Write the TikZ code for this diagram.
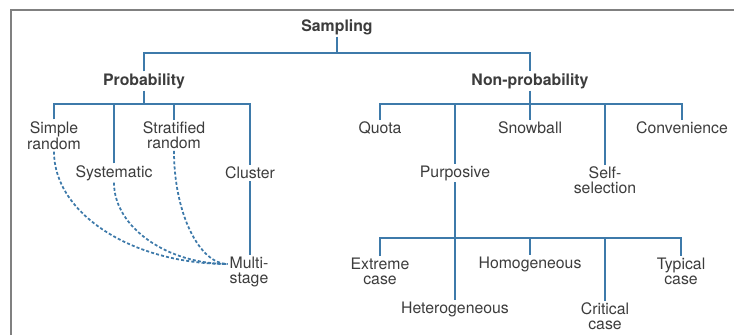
\documentclass[tikz,border=0pt]{standalone}
\usepackage{fontspec}
\setmainfont{TeX Gyre Heros}
\usetikzlibrary{calc}
\definecolor{linkblue}{RGB}{62,122,170}
\definecolor{txtgray}{RGB}{60,60,60}
\newcommand{\termnode}[4]{\node[term] (#1) at ( #2 , #3 ) {#4};}
\newcommand{\headnode}[4]{\node[term,font=\fontsize{13.5}{12.75}\selectfont\bfseries] (#1) at ( #2 , #3 ) {#4};}

\begin{document}
\begin{tikzpicture}[x=0.03cm,y=-0.03cm,
    term/.style={align=center,inner sep=1.5pt,text=txtgray,font=\fontsize{13.5}{12.75}\selectfont},
    link/.style={draw=linkblue,line width=1.6pt},
    mixed/.style={draw=linkblue,line width=1.5pt,dash pattern=on 2.6pt off 1.8pt}]
    \useasboundingbox (0,0) rectangle (734,335);
    %frame
    \draw[gray,line width=1.2pt] (11,335) -- (11,10) -- (734,10);

    %nodes
    \headnode{sampling}{337}{27}{Sampling}
    \headnode{prob}{144}{81}{Probability}
    \headnode{nonprob}{530}{81}{Non-probability}
    \termnode{simple}{54}{135.5}{Simple\\random}
    \termnode{stratified}{174}{135.5}{Stratified\\random}
    \termnode{systematic}{114}{173}{Systematic}
    \termnode{cluster}{250}{173}{Cluster}
    \termnode{multi}{249}{271.5}{Multi-\\stage}
    \termnode{quota}{380}{128}{Quota}
    \termnode{snowball}{530}{128}{Snowball}
    \termnode{convenience}{682}{128}{Convenience}
    \termnode{purposive}{455}{173}{Purposive}
    \termnode{selfsel}{605}{180.5}{Self-\\selection}
    \termnode{extreme}{380}{271.5}{Extreme\\case}
    \termnode{homog}{530}{264}{Homogeneous}
    \termnode{typical}{681}{271.5}{Typical\\case}
    \termnode{hetero}{455}{309}{Heterogeneous}
    \termnode{critical}{605}{316.5}{Critical\\case}

    %buses
    \coordinate (sbus) at (337,53);
    \coordinate (pbus) at (144,104);
    \coordinate (nbus) at (530,104);
    \coordinate (ubus) at (455,238);

    %edges
    \draw[link] (sampling) -- (sbus);
    \draw[link] (prob) |- (sbus) -| (nonprob);

    \draw[link] (prob) -- (pbus);
    \draw[link] (simple) |- (pbus) -| (cluster);
    \draw[link] (stratified) -- (stratified |- pbus);
    \draw[link] (systematic) -- (systematic |- pbus);
    \draw[link] (cluster) -- (cluster |- multi.north);

    \draw[link] (nonprob) -- (nbus);
    \draw[link] (quota) |- (nbus) -| (convenience);
    \draw[link] (snowball) -- (nbus);
    \draw[link] (purposive) -- (purposive |- nbus);
    \draw[link] (selfsel) -- (selfsel |- nbus);

    \draw[link] (purposive) -- (purposive |- hetero.north);
    \draw[link] (extreme) |- (ubus) -| (typical);
    \draw[link] (homog) -- (homog |- ubus);
    \draw[link] (critical) -- (critical |- ubus);

    %mixed designs
    \draw[mixed] (simple.south) .. controls +(0,63) and +(-94,0) .. ([yshift=6.4pt]multi.west);
    \draw[mixed] (systematic.south) .. controls +(0,45) and +(-60,0) .. ([yshift=6.4pt]multi.west);
    \draw[mixed] (stratified.south) .. controls +(0,63) and +(-28,0) .. ([yshift=6.4pt]multi.west);
\end{tikzpicture}
\end{document}
